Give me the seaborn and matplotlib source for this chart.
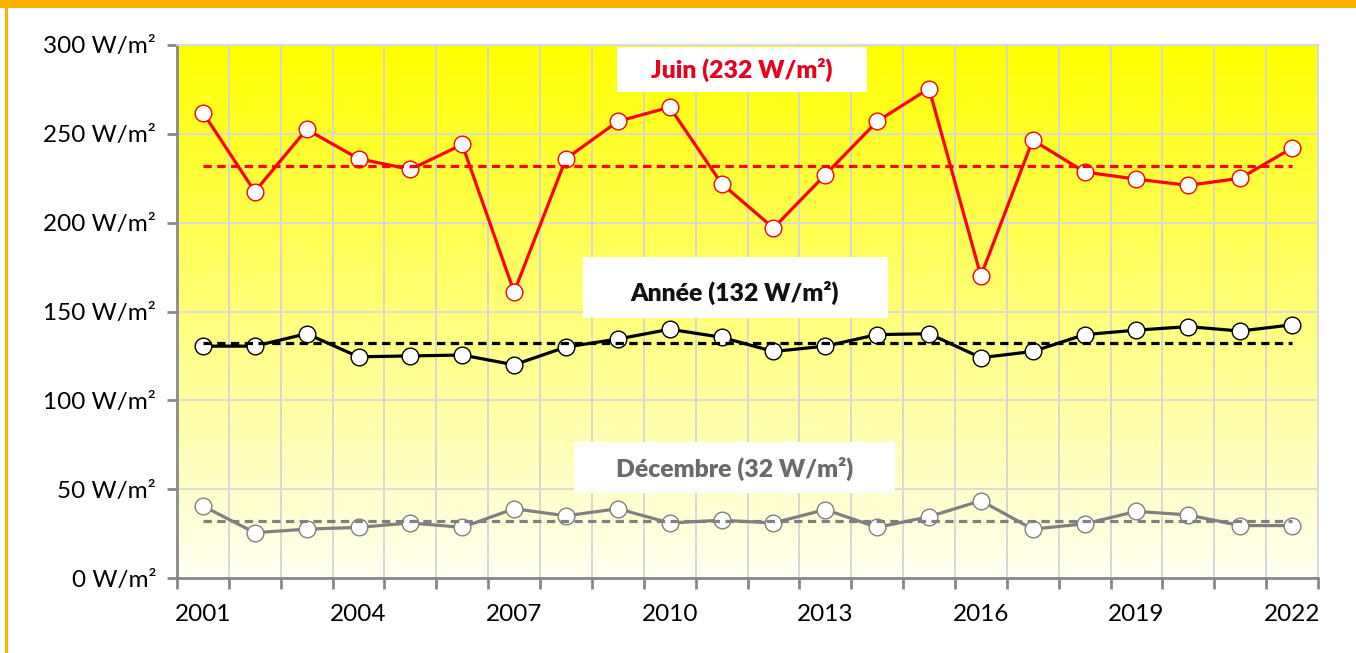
import numpy as np
import pandas as pd
import matplotlib
matplotlib.use("Agg")
import matplotlib.pyplot as plt
from matplotlib.patches import Rectangle
from matplotlib.ticker import FuncFormatter, FixedLocator
import seaborn as sns

# Monthly / yearly mean solar irradiance (W/m²)
years = list(range(2001, 2023))
juin = [262, 217.5, 252.5, 236, 230, 244, 161, 236, 257, 265, 222,
        197, 227, 257, 275.5, 170, 246.5, 228.5, 224.5, 221, 225, 242]
annee = [130.5, 130.5, 137.5, 124.5, 125, 125.5, 120, 130, 134.5, 140, 135.5,
         127.5, 130.5, 137, 137.5, 124, 127.5, 137, 139.5, 141.5, 139, 142.5]
decembre = [40.5, 25.5, 27.5, 28.5, 31, 28.5, 39, 35, 39, 31, 32.5,
            31, 38.5, 28.5, 34.5, 43.5, 27.5, 30.5, 37.5, 35.5, 29.5, 29.5]
moyennes = {"Juin": 232, "Année": 132, "Décembre": 32}
label_years = [2001, 2004, 2007, 2010, 2013, 2016, 2019, 2022]
y_ticks = [0, 50, 100, 150, 200, 250, 300]

sns.set_theme(style="white")
plt.rcParams["font.family"] = ["Lato", "DejaVu Sans"]

fig = plt.figure(figsize=(13.56, 6.53), dpi=100)
fig.patch.set_facecolor("white")
ax = fig.add_axes([177 / 1356, 1 - 578 / 653, 1141 / 1356, 533 / 653])

# Orange frame strips
fig.patches.append(Rectangle((0, 1 - 8 / 653), 1, 8 / 653, transform=fig.transFigure,
                             facecolor="#FAB400", edgecolor="none", zorder=0))
fig.patches.append(Rectangle((5 / 1356, 0), 3 / 1356, 1, transform=fig.transFigure,
                             facecolor="#FAB400", edgecolor="none", zorder=0))

x0, x1 = 2000.5, 2022.5
# Yellow-to-white vertical gradient in the plot area
n = 256
t = np.linspace(0, 1, n)[:, None]
top = np.array([1.0, 1.0, 0.0])
bottom = np.array([1.0, 1.0, 0.95])
grad = (bottom[None, :] * (1 - t) + top[None, :] * t)[:, None, :]
grad = np.repeat(grad, 2, axis=1)
ax.imshow(grad, extent=[x0, x1, 0, 300], origin="lower", aspect="auto",
          zorder=-2, interpolation="bilinear")

df = pd.DataFrame({"year": years * 3,
                   "value": juin + annee + decembre,
                   "serie": ["Juin"] * 22 + ["Année"] * 22 + ["Décembre"] * 22})

colors = {"Juin": "#FF0000", "Année": "#000000", "Décembre": "#808080"}
for serie in ["Décembre", "Année", "Juin"]:
    sub = df[df["serie"] == serie]
    c = colors[serie]
    sns.lineplot(data=sub, x="year", y="value", ax=ax, color=c, linewidth=2.3,
                 marker="o", markersize=12, markerfacecolor="white",
                 markeredgecolor=c, markeredgewidth=1.0, zorder=3)
    m = moyennes[serie]
    mean_df = pd.DataFrame({"year": [years[0], years[-1]], "value": [m, m]})
    sns.lineplot(data=mean_df, x="year", y="value", ax=ax, color=c,
                 linewidth=2.3, linestyle=(0, (2.6, 1.7)), zorder=4)

ax.set_xlim(x0, x1)
ax.set_ylim(0, 300)
ax.set_xlabel("")
ax.set_ylabel("")

# Category-style x axis: labels at centers, ticks and grid at boundaries
ax.xaxis.set_major_locator(FixedLocator(label_years))
ax.xaxis.set_minor_locator(FixedLocator(np.arange(x0, x1 + 0.01, 1.0)))
ax.set_xticklabels([str(y) for y in label_years])
ax.tick_params(axis="x", which="major", length=0, pad=19, labelsize=17.5, colors="black")
ax.tick_params(axis="x", which="minor", length=8, width=2, color="#898989", bottom=True)
ax.set_yticks(y_ticks)
ax.yaxis.set_major_formatter(FuncFormatter(lambda v, p: f"{int(v)} W/m²"))
ax.tick_params(axis="y", which="major", length=7, width=2, color="#898989",
               pad=8, labelsize=17.5, left=True, labelcolor="black")

ax.grid(False)
ax.xaxis.grid(True, which="minor", color="#D4D4D4", linewidth=1.3)
ax.yaxis.grid(True, which="major", color="#D9D9D9", linewidth=1.3)
ax.set_axisbelow(True)

for side in ["left", "bottom"]:
    ax.spines[side].set_color("#898989")
    ax.spines[side].set_linewidth(2)
for side in ["top", "right"]:
    ax.spines[side].set_color("#D9D9D9")
    ax.spines[side].set_linewidth(1.3)
    ax.spines[side].set_visible(True)

# Labelled white boxes (axes fraction coordinates)
boxes = [
    ("Juin (232 W/m²)", "#E8001C", (0.3856, 0.9118, 0.2191, 0.0844), (0.4952, 0.953)),
    ("Année (132 W/m²)", "#111111", (0.3558, 0.4878, 0.2673, 0.1145), (0.489, 0.535)),
    ("Décembre (32 W/m²)", "#6B6B6B", (0.3479, 0.1595, 0.2814, 0.0957), (0.489, 0.205)),
]
for txt, col, (bx, by, bw, bh), (tx, ty) in boxes:
    ax.add_patch(Rectangle((bx, by), bw, bh, transform=ax.transAxes,
                           facecolor="white", edgecolor="none", zorder=5))
    ax.text(tx, ty, txt, transform=ax.transAxes, ha="center", va="center",
            color=col, fontsize=17.8, fontweight="heavy", zorder=6)

fig.savefig("out.png", dpi=100, facecolor="white")
